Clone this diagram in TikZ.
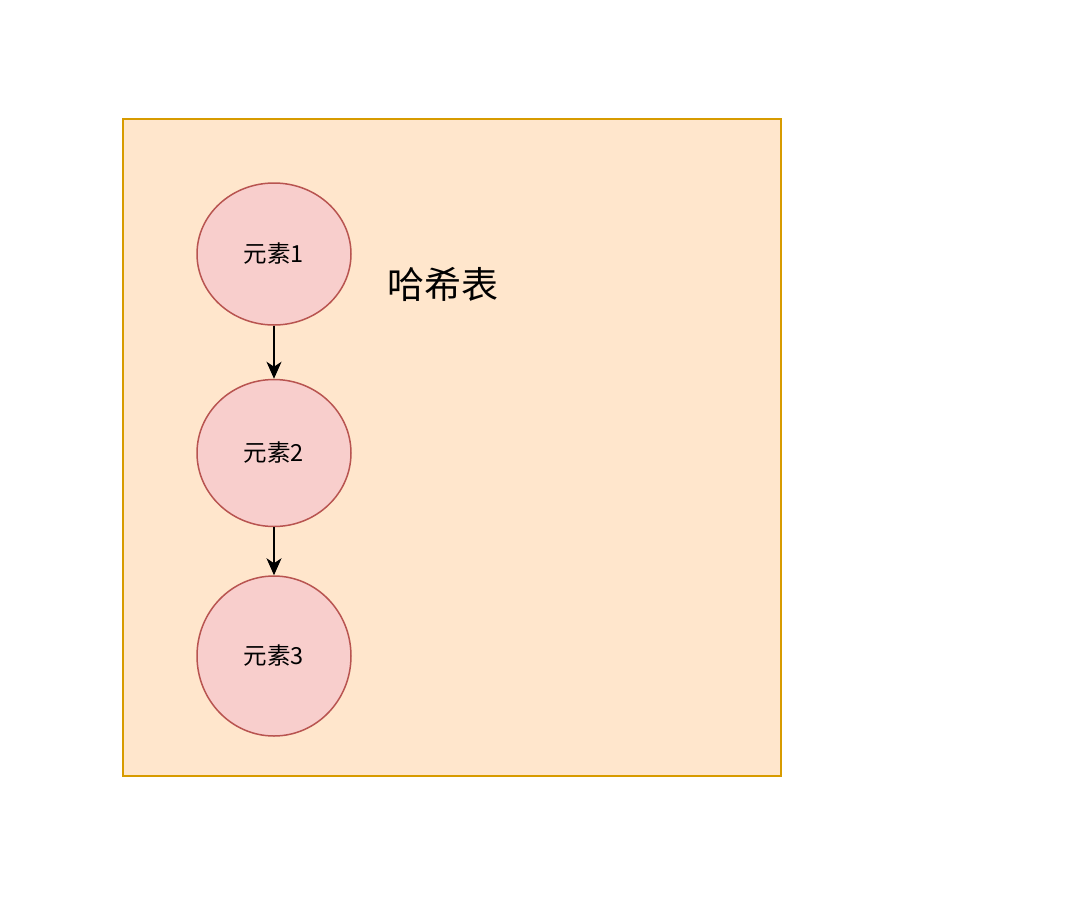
\documentclass[tikz,border=0pt]{standalone}
\usepackage{fontspec}
\setmainfont{Noto Sans CJK SC}
\usetikzlibrary{shapes.geometric,arrows.meta,positioning}
\definecolor{tablefill}{HTML}{FFE6CC}
\definecolor{tabledraw}{HTML}{D79B00}
\definecolor{elemfill}{HTML}{F8CECC}
\definecolor{elemdraw}{HTML}{B85450}

\begin{document}
\begin{tikzpicture}[x=1pt,y=-1pt]
  \tikzset{elem node/.style={ellipse, draw=elemdraw, fill=elemfill,
  		line width=1.5pt, minimum width=154pt, inner sep=0pt,
  		font=\fontsize{23.5}{23.5}\selectfont, text centered}, }
  \tikzset{table node/.style={rectangle, draw=tabledraw, fill=tablefill,
  		line width=1.5pt, minimum width=658pt, minimum height=657pt,
  		inner sep=0pt}, }
  \tikzset{linea/.style={-{Stealth[length=17pt,width=15pt,inset=5pt]}, line width=1.5pt}, }
\useasboundingbox (0,0) rectangle (1077,911);
\node[table node] (table) at (452,447.5) {};
\node[elem node, minimum height=142pt] (1) at (274,254) {元素1};
\node[elem node, minimum height=147pt] (2)[below =53pt of 1] {元素2};
\node[elem node, minimum height=160pt] (3)[below =48pt of 2] {元素3};
\node[font=\fontsize{37}{37}\selectfont] (title) at (443,284) {哈希表};
\foreach \x /\y in{1/2,2/3}
  \path[linea] (\x) edge node {} (\y);
%%
\end{tikzpicture}
\end{document}
